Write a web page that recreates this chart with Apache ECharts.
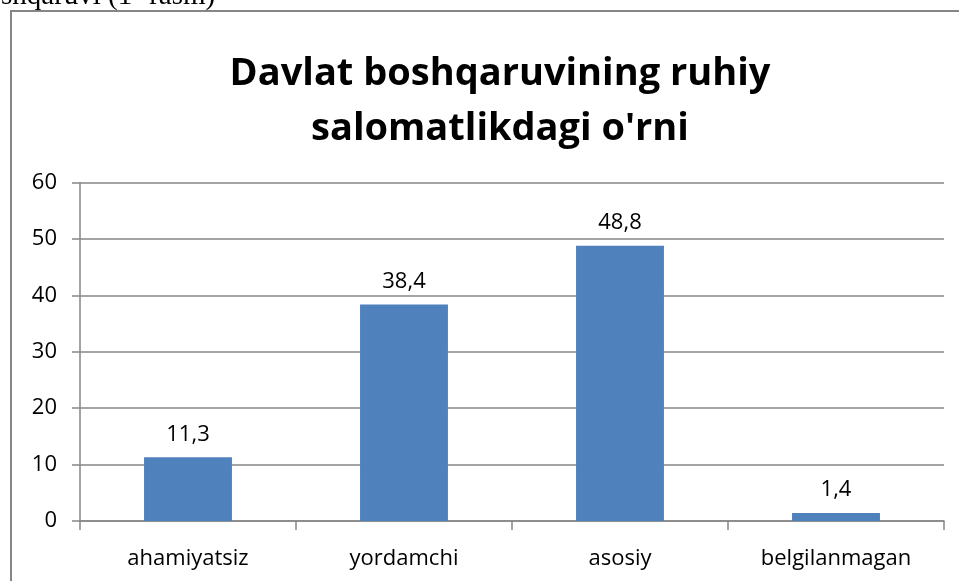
<!DOCTYPE html>
<html>
<head>
<meta charset="utf-8">
<script src="https://cdn.jsdelivr.net/npm/echarts@6/dist/echarts.min.js"></script>
<style>
  html, body { margin: 0; padding: 0; background: #fff; }
  #chart { width: 959px; height: 581px; }
</style>
</head>
<body>
<div id="chart"></div>
<script>
// data
const categories = ['ahamiyatsiz', 'yordamchi', 'asosiy', 'belgilanmagan']
const values = [11.3, 38.4, 48.8, 1.4]
const yTicks = [0, 10, 20, 30, 40, 50, 60]

const chart = echarts.init(document.getElementById('chart'))
const font = '"Open Sans", "Noto Sans", sans-serif'

chart.setOption({
  animation: false,
  title: {
    text: 'Davlat boshqaruvining ruhiy\nsalomatlikdagi o\'rni',
    left: 495,
    top: 42,
    textAlign: 'center',
    textStyle: {
      fontFamily: font,
      fontSize: 38,
      fontWeight: 'bold',
      color: '#000',
      lineHeight: 55,
    },
  },
  graphic: [
    {
      // leftover text of the document above the chart
      type: 'text',
      x: 1,
      y: 11,
      style: {
        text: 'shqaruvi (1- rasm)',
        font: '29px "Liberation Serif", serif',
        fill: '#000',
        verticalAlign: 'bottom',
      },
      silent: true,
    },
    {
      // chart frame, cut by the page edges
      type: 'rect',
      shape: { x: 11, y: 11, width: 1000, height: 1000 },
      style: { fill: '#fff', stroke: '#868686', lineWidth: 2 },
      z: -10,
      silent: true,
    },
  ],
  grid: {
    left: 80,
    right: 15,
    top: 182.7,
    bottom: 60,
  },
  xAxis: {
    type: 'category',
    data: categories,
    axisLine: { lineStyle: { color: '#868686', width: 1.5 } },
    axisTick: { show: true, length: 9, lineStyle: { color: '#868686', width: 1.5 } },
    axisLabel: {
      margin: 27,
      fontFamily: font,
      fontSize: 22,
      color: '#000',
    },
  },
  yAxis: {
    type: 'value',
    min: yTicks[0],
    max: yTicks[yTicks.length - 1],
    interval: 10,
    axisLine: { show: true, lineStyle: { color: '#868686', width: 1.5 } },
    axisTick: { show: true, length: 8, lineStyle: { color: '#868686', width: 1.5 } },
    axisLabel: {
      margin: 23,
      fontFamily: font,
      fontSize: 22,
      color: '#000',
    },
    splitLine: { lineStyle: { color: '#868686', width: 1.5 } },
  },
  series: [
    {
      type: 'bar',
      data: values,
      barWidth: '40.7%',
      itemStyle: { color: '#4F81BD' },
      label: {
        show: true,
        position: 'top',
        distance: 12,
        fontFamily: font,
        fontSize: 22,
        color: '#000',
        formatter: p => String(p.value).replace('.', ','),
      },
    },
  ],
})
</script>
</body>
</html>
